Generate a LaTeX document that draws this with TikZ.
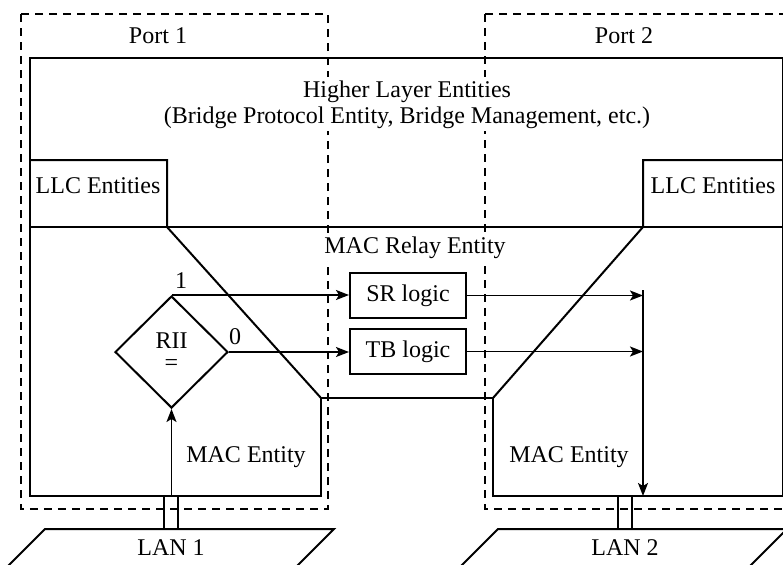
\documentclass[tikz,border=0pt]{standalone}
\usepackage{fontspec}
\setmainfont{Liberation Serif}
\usetikzlibrary{arrows.meta,shapes.geometric}

\begin{document}
\begin{tikzpicture}[
  x=0.5pt, y=-0.5pt,
  font=\fontsize{12}{13}\selectfont,
  >=Stealth,
  frame/.style={line width=1pt, line join=miter},
  divider/.style={line width=0.6pt},
  portbox/.style={line width=0.7pt, dash pattern=on 4pt off 3pt},
  tap/.style={line width=0.8pt},
  logicbox/.style={draw, line width=1pt, minimum width=58pt, minimum height=22.5pt, inner sep=0pt},
  decision/.style={draw, diamond, line width=1pt, minimum width=56.5pt, minimum height=56pt,
    inner sep=0pt, align=center},
  flow/.style={line width=0.8pt, -{Stealth[length=6.5pt,width=5pt,inset=1.5pt]}},
  lbl/.style={inner sep=0pt, anchor=base},
  masked/.style={lbl, fill=white, inner sep=1.5pt}
]
\useasboundingbox (0,0) rectangle (783,564);

% --------------------------------------------------------------------------
% Port outlines (dashed) and port titles.
% --------------------------------------------------------------------------
\draw[portbox] (21,14) rectangle (328,509);
\draw[portbox] (485,14) rectangle (820,509);
\node[lbl] (portone) at (158,43) {Port 1};
\node[lbl] (porttwo) at (624,43) {Port 2};

% --------------------------------------------------------------------------
% Bridge body: higher layer, LLC, MAC relay and MAC entities.
% --------------------------------------------------------------------------
\draw[frame] (30,58) -- (783,58) -- (783,496) -- (493,496) -- (493,398)
  -- (321,398) -- (321,496) -- (30,496) -- cycle;
\draw[divider] (30,227) -- (783,227);

% LLC boxes and the slanted relay boundary.
\draw[frame] (30,160) -- (167,160) -- (167,227) -- (321,398);
\draw[frame] (783,160) -- (643,160) -- (643,227) -- (493,398);

% Titles sit over the port outlines, so they blank the dashes.
\node[masked] (higher) at (407,97) {Higher Layer Entities};
\node[masked] (higherdetail) at (407,123) {(Bridge Protocol Entity, Bridge Management, etc.)};
\node[lbl] (llcone) at (98,193) {LLC Entities};
\node[lbl] (llctwo) at (713,193) {LLC Entities};
\node[masked] (relay) at (415,253) {MAC Relay Entity};
\node[lbl] (maconeent) at (246,462) {MAC Entity};
\node[lbl] (mactwoent) at (569,462) {MAC Entity};

% --------------------------------------------------------------------------
% Routing decision and relay logic.
% --------------------------------------------------------------------------
\node[decision] (rii) at (171.5,352) {RII\\[-2pt]=};
\node[logicbox] (srlogic) at (408,295.5) {SR logic};
\node[logicbox] (tblogic) at (408,351.5) {TB logic};

\coordinate (relayin) at (643,290);
\coordinate (relayout) at (643,496);
\coordinate (lanonetap) at (171.5,496);

\draw[flow] (rii.north) -- (rii.north -| srlogic.west);
\draw[flow] (rii.east) -- (rii.east -| tblogic.west);
\node[lbl] (one) at (181,288) {1};
\node[lbl] (zero) at (235,344) {0};

\draw[flow] (srlogic.east) -- (srlogic.east -| relayin);
\draw[flow] (tblogic.east) -- (tblogic.east -| relayin);
\draw[flow] (relayin) -- (relayout);
\draw[flow] (lanonetap) -- (rii.south);

% --------------------------------------------------------------------------
% LAN segments and attachments.
% --------------------------------------------------------------------------
\draw[tap] (164,496) -- (164,529) (178,496) -- (178,529);
\draw[tap] (618,496) -- (618,529) (632,496) -- (632,529);
\draw[frame] (0,574) -- (45,529) -- (334,529) -- (289,574);
\draw[frame] (453,574) -- (498,529) -- (787,529) -- (742,574);
\node[lbl] (lanone) at (171,555) {LAN 1};
\node[lbl] (lantwo) at (625,555) {LAN 2};

\end{tikzpicture}
\end{document}
